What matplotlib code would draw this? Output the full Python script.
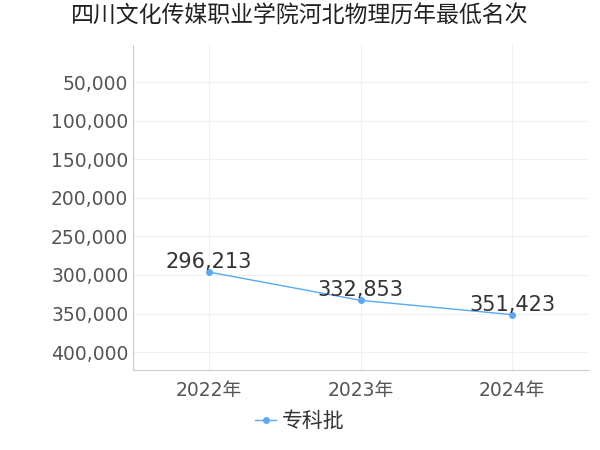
import matplotlib
matplotlib.use("Agg")
import matplotlib.pyplot as plt
from matplotlib.ticker import FuncFormatter

plt.rcParams['font.family'] = ['DejaVu Sans', 'Noto Sans CJK SC']

years = ["2022年", "2023年", "2024年"]
values = [296213, 332853, 351423]
series_name = "专科批"
yticks = [50000, 100000, 150000, 200000, 250000, 300000, 350000, 400000]

fig = plt.figure(figsize=(6, 4.5), dpi=100)
ax = fig.add_axes([0.222, 0.178, 0.758, 0.722])
x = range(len(years))
ax.plot(x, values, color="#5aa9f5", marker="o", markersize=4, linewidth=1, label=series_name)
for xi, v in zip(x, values):
    ax.annotate(f"{v:,}", (xi, v), textcoords="offset points", xytext=(0, 0),
                ha="center", va="bottom", fontsize=15, color="#333333")
ax.set_ylim(423000, 2000)
ax.set_yticks(yticks)
ax.yaxis.set_major_formatter(FuncFormatter(lambda v, p: f"{int(v):,}"))
ax.set_xlim(-0.5, 2.5)
ax.set_xticks(list(x))
ax.set_xticklabels(years)
ax.tick_params(axis="both", labelsize=13.5, colors="#555555", length=0)
ax.tick_params(axis="x", pad=8)
ax.grid(True, color="#f0f0f0", linewidth=0.8)
for s in ["top", "right"]:
    ax.spines[s].set_visible(False)
ax.spines["left"].set_color("#cccccc")
ax.spines["bottom"].set_color("#cccccc")
fig.suptitle("四川文化传媒职业学院河北物理历年最低名次", fontsize=16.5, x=0.5, y=0.99, color="#222222")
fig.legend(loc="lower center", bbox_to_anchor=(0.5, 0.0), frameon=False, fontsize=15,
           handlelength=1.0, handletextpad=0.3, labelcolor="#333333")
fig.savefig("out.png")
